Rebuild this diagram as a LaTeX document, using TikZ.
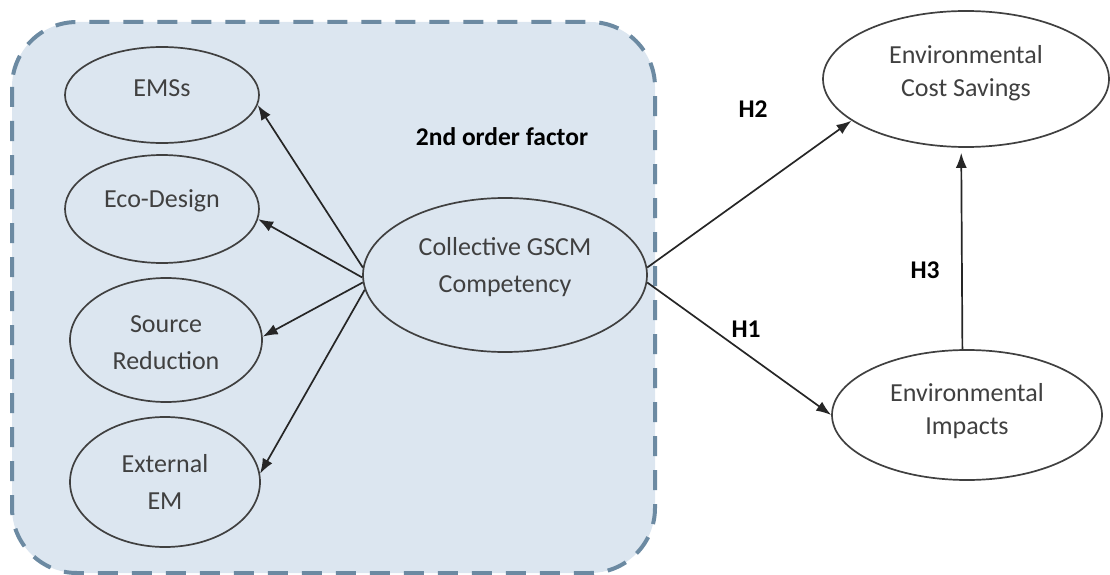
\documentclass[tikz,border=0pt]{standalone}
\usepackage{fontspec}
\setmainfont{Carlito}
\usepackage{tikz}
\usetikzlibrary{shapes.geometric}
\usetikzlibrary{arrows.meta}
\definecolor{grpfill}{RGB}{220,230,240}
\definecolor{grpline}{RGB}{108,138,162}
\definecolor{inkgray}{RGB}{64,64,64}
\tikzset{
	factor/.style={shape=ellipse,draw=inkgray,line width=1.7pt,inner sep=0pt},
	factortext/.style={align=center,text=inkgray,font=\fontsize{26}{33}\selectfont},
	hyp/.style={font=\bfseries\fontsize{25.5}{30}\selectfont},
	path/.style={-{Latex[length=15pt,width=11pt]},line width=1.7pt,draw=black!85},
	group/.style={draw=grpline,fill=grpfill,line width=4pt,dash pattern=on 20pt off 14pt,rounded corners=65pt}
}
\newcommand{\drawfactor}[6]{
	\draw #1 node (#2) [factor,minimum width=#3,minimum height=#4,label={[factortext,yshift=#5]center:{#6}}] {};
}

\begin{document}
\begin{tikzpicture}[x=1pt,y=-1pt]
	\useasboundingbox (0,0) rectangle (1110,575);
	\draw[group] (12,22) rectangle (655,573);
	\drawfactor{(162,95)}{ems}{194pt}{96pt}{7pt}{EMSs}
	\drawfactor{(162,209)}{eco}{194pt}{108pt}{8pt}{Eco-Design}
	\drawfactor{(166,340)}{src}{192pt}{124pt}{-3pt}{Source\\[4pt]Reduction}
	\drawfactor{(165,482)}{ext}{190pt}{130pt}{0pt}{External\\[4pt]EM}
	\drawfactor{(505,275)}{cgc}{284pt}{154pt}{8pt}{Collective GSCM\\[4pt]Competency}
	\drawfactor{(966,79)}{ecs}{286pt}{136pt}{6pt}{Environmental\\Cost Savings}
	\drawfactor{(967,415)}{ei}{270pt}{130pt}{4pt}{Environmental\\Impacts}
	\draw (502,137) node (order) [hyp] {2nd order factor};
	\draw (753,109) node (h2) [hyp] {H2};
	\draw (746,329) node (h1) [hyp] {H1};
	\draw (925,270) node (h3) [hyp] {H3};
	\draw[path] (cgc.177) -- (ems.-6);
	\draw[path] (cgc.181) -- (eco.-6);
	\draw[path] (cgc.183) -- (src.2);
	\draw[path] (cgc.186) -- (ext.5);
	\draw[path] (cgc.3) -- (ecs.200);
	\draw[path] (cgc.-3) -- (ei.180);
	\draw[path,shorten >=5pt] (ei.94) -- (ecs.266);
\end{tikzpicture}
\end{document}
